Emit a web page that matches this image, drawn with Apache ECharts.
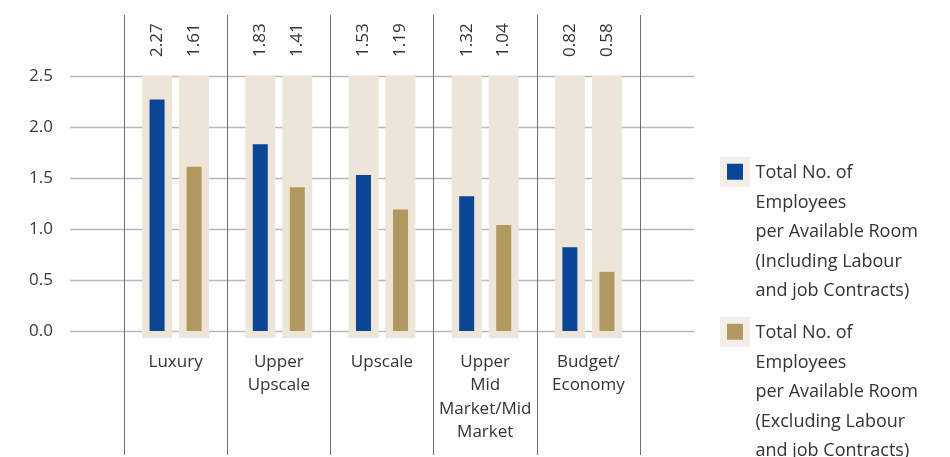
<!DOCTYPE html>
<html>
<head>
    <meta charset="utf-8">
    <title>Employees per Available Room</title>
    <script src="https://cdn.jsdelivr.net/npm/echarts@6/dist/echarts.min.js"></script>
    <style>
        html, body { margin: 0; padding: 0; background: #fff; }
        #main { width: 950px; height: 457px; }
    </style>
</head>
<body>
<div id="main"></div>
<script type="text/javascript">
    // data
    var categories = ['Luxury', 'Upper\nUpscale', 'Upscale', 'Upper\nMid\nMarket/Mid\nMarket', 'Budget/\nEconomy'];
    var inclValues = [2.27, 1.83, 1.53, 1.32, 0.82];
    var exclValues = [1.61, 1.41, 1.19, 1.04, 0.58];
    var yTicks = [0, 0.5, 1.0, 1.5, 2.0, 2.5];
    var seriesNames = [
        'Total No. of\nEmployees\nper Available Room\n(Including Labour\nand job Contracts)',
        'Total No. of\nEmployees\nper Available Room\n(Excluding Labour\nand job Contracts)'
    ];

    var yMax = yTicks[yTicks.length - 1];
    var yStep = yTicks[1] - yTicks[0];
    var bgPad = 0.07;   // the pale frame reaches a little below zero
    var font = 'Open Sans';
    var blue = '#0b4596', gold = '#b09960', pale = '#ece5d8';

    var bgTop = categories.map(function () { return yMax; });
    var bgLow = categories.map(function () { return -bgPad; });

    function valueLabel(arr) {
        return {
            show: true,
            position: 'top',
            distance: 19,
            rotate: 90,
            align: 'left',
            verticalAlign: 'middle',
            fontFamily: font,
            fontSize: 17,
            color: '#333',
            formatter: function (p) { return arr[p.dataIndex].toFixed(2); }
        };
    }

    var myChart = echarts.init(document.getElementById('main'));
    myChart.setOption({
        animation: false,
        textStyle: { fontFamily: font },
        legend: {
            orient: 'vertical',
            left: 720,
            top: 155,
            height: 340,
            padding: 0,
            itemGap: 5.5,
            itemWidth: 23,
            itemHeight: 147.5,
            selectedMode: false,
            icon: 'path://M0,0 M0,1.75h23v23h-23z M0,147.5',
            itemStyle: { borderColor: '#f3efe8', borderWidth: 7 },
            textStyle: { fontSize: 18, lineHeight: 29.5, color: '#333', padding: [0, 0, 0, 4] },
            data: seriesNames
        },
        grid: [
            // horizontal lines + y labels
            { left: 70, right: 256, top: 76, bottom: 126 },
            // bars
            { left: 124, right: 310, top: 76, bottom: 126 },
            // vertical dividers
            { left: 124, right: 310, top: 15, bottom: 2 }
        ],
        xAxis: [
            { gridIndex: 0, type: 'value', min: 0, max: 1, show: false },
            {
                gridIndex: 1, type: 'category', data: categories,
                axisLine: { show: false }, axisTick: { show: false }, splitLine: { show: false },
                axisLabel: { interval: 0, margin: 19, fontSize: 17, lineHeight: 23.5, color: '#333' }
            },
            { gridIndex: 1, type: 'category', data: categories, show: false },
            {
                gridIndex: 2, type: 'category', data: categories,
                axisLine: { show: false }, axisTick: { show: false }, axisLabel: { show: false },
                splitLine: { show: true, lineStyle: { color: '#6f6f6f', width: 1 } }
            }
        ],
        yAxis: [
            {
                gridIndex: 0, type: 'value', min: 0, max: yMax, interval: yStep,
                axisLine: { show: false }, axisTick: { show: false },
                axisLabel: {
                    margin: 17, fontSize: 17, color: '#3a3a3a',
                    formatter: function (v) { return v.toFixed(1); }
                },
                splitLine: { lineStyle: { color: '#b9b9b9', width: 1.3 } }
            },
            { gridIndex: 1, type: 'value', min: 0, max: yMax, show: false },
            { gridIndex: 2, type: 'value', min: 0, max: 1, show: false }
        ],
        series: [
            {
                name: 'bgInclLow', type: 'bar', xAxisIndex: 1, yAxisIndex: 1, stack: 'bgIncl',
                barWidth: 30, barGap: '23%', clip: false, silent: true,
                itemStyle: { color: pale }, data: bgLow
            },
            {
                name: 'bgInclTop', type: 'bar', xAxisIndex: 1, yAxisIndex: 1, stack: 'bgIncl',
                barWidth: 30, barGap: '23%', silent: true,
                itemStyle: { color: pale }, label: valueLabel(inclValues), data: bgTop
            },
            {
                name: 'bgExclLow', type: 'bar', xAxisIndex: 1, yAxisIndex: 1, stack: 'bgExcl',
                barWidth: 30, barGap: '23%', clip: false, silent: true,
                itemStyle: { color: pale }, data: bgLow
            },
            {
                name: 'bgExclTop', type: 'bar', xAxisIndex: 1, yAxisIndex: 1, stack: 'bgExcl',
                barWidth: 30, barGap: '23%', silent: true,
                itemStyle: { color: pale }, label: valueLabel(exclValues), data: bgTop
            },
            {
                name: seriesNames[0], type: 'bar', xAxisIndex: 2, yAxisIndex: 1,
                barWidth: 15, barGap: '147%', itemStyle: { color: blue }, data: inclValues
            },
            {
                name: seriesNames[1], type: 'bar', xAxisIndex: 2, yAxisIndex: 1,
                barWidth: 15, barGap: '147%', itemStyle: { color: gold }, data: exclValues
            }
        ]
    });
</script>
</body>
</html>
